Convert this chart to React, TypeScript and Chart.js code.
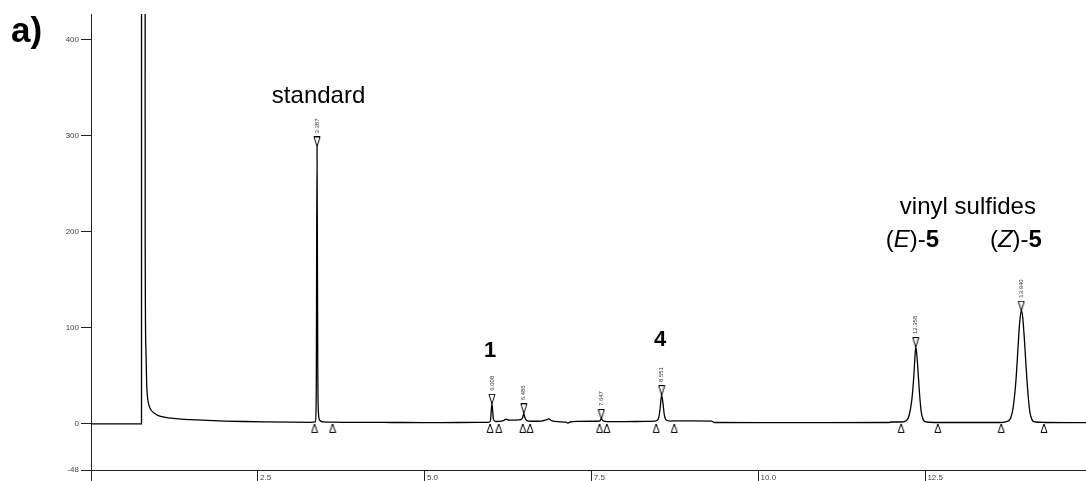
import { useEffect, useRef } from "react";
import { Chart, registerables } from "chart.js";

Chart.register(...registerables);

// Detector trace: retention time (min) and signal
const traceTime = [
  0, 0.757, 0.758, 0.806, 0.812, 0.822, 0.835, 0.85, 0.87, 0.9, 0.95, 1.0, 1.1, 1.2, 1.35, 1.5, 1.75, 2.0,
  2.3, 2.6, 3.0, 3.3, 3.36, 3.375, 3.387, 3.398, 3.41, 3.43, 3.48, 3.6, 4.0, 4.5, 5.0, 5.5, 5.95,
  5.985, 5.998, 6.008, 6.018, 6.03, 6.06, 6.12, 6.18, 6.22, 6.26, 6.35, 6.44, 6.47, 6.486, 6.5, 6.53,
  6.6, 6.75, 6.82, 6.86, 6.9, 7.0, 7.12, 7.15, 7.18, 7.3, 7.5, 7.62, 7.647, 7.68, 7.8, 8.0, 8.3, 8.45,
  8.5, 8.525, 8.551, 8.57, 8.59, 8.62, 8.68, 8.8, 9.0, 9.3, 9.34, 10.0, 11.0, 11.95, 12.0, 12.15, 12.22,
  12.26, 12.3, 12.33, 12.345, 12.358, 12.37, 12.39, 12.415, 12.44, 12.47, 12.52, 12.7, 13.6, 13.72,
  13.78, 13.82, 13.86, 13.89, 13.915, 13.94, 13.96, 13.985, 14.01, 14.04, 14.07, 14.1, 14.15, 14.3, 14.91,
];
const traceSignal = [
  0, 0, 2000, 2000, 200, 80, 40, 26, 19, 14.5, 11, 9, 7, 6, 5, 4.4, 3.6, 3,
  2.5, 2.1, 1.8, 1.7, 2.2, 30, 289, 60, 10, 3.5, 2.2, 1.8, 1.6, 1.5, 1.4, 1.5, 1.6,
  3, 14, 21, 14, 5, 2.5, 2.6, 3.5, 5, 4, 4, 4.5, 7, 11, 7, 3.5,
  2.8, 3, 4.2, 5.2, 3.5, 2.3, 1.8, 0.8, 2, 2.6, 2.8, 3, 5, 3, 2.3, 2.4, 2.6, 3,
  5, 14, 30, 22, 10, 4, 3, 3.2, 3.2, 3, 1.5, 1.4, 1.4, 1.5, 2, 2, 3.5,
  9, 25, 50, 68, 80, 76, 58, 32, 13, 4.5, 2, 1.5, 1.5, 2.5,
  6, 18, 45, 78, 105, 118, 112, 90, 62, 32, 12, 4.5, 2, 1.5, 1.3,
];

// Integrated peaks
const peakTimes = [3.387, 6.008, 6.486, 7.647, 8.551, 12.358, 13.94];
const peakHeights = [289, 21, 11, 5, 30, 80, 118];
const peakStarts = [3.35, 5.98, 6.47, 7.62, 8.47, 12.14, 13.64];
const peakEnds = [3.62, 6.11, 6.58, 7.73, 8.74, 12.69, 14.28];

// Axis ticks
const xTickValues = [0, 2.5, 5, 7.5, 10, 12.5];
const yTickValues = [-48, 0, 100, 200, 300, 400];

const FONT = '"Liberation Sans", Arial, Helvetica, sans-serif';

type Part = { text: string; style?: "italic" | "bold" };
type Note = { parts: Part[]; time: number; value: number; size: number };

const notes: Note[] = [
  { parts: [{ text: "standard" }], time: 3.41, value: 334, size: 24 },
  { parts: [{ text: "1", style: "bold" }], time: 5.98, value: 70, size: 22 },
  { parts: [{ text: "4", style: "bold" }], time: 8.53, value: 81, size: 22 },
  { parts: [{ text: "vinyl sulfides" }], time: 13.14, value: 218.5, size: 24 },
  {
    parts: [{ text: "(" }, { text: "E", style: "italic" }, { text: ")-" }, { text: "5", style: "bold" }],
    time: 12.31, value: 184.5, size: 24,
  },
  {
    parts: [{ text: "(" }, { text: "Z", style: "italic" }, { text: ")-" }, { text: "5", style: "bold" }],
    time: 13.86, value: 184.5, size: 24,
  },
];

function partFont(p: Part, size: number) {
  const pre = p.style === "italic" ? "italic " : p.style === "bold" ? "bold " : "";
  return `${pre}${size}px ${FONT}`;
}

// Open triangles whose tip sits at the centre of the sprite
function makeTriangle(pointing: "up" | "down") {
  const c = document.createElement("canvas");
  c.width = 8;
  c.height = 20;
  const g = c.getContext("2d")!;
  g.strokeStyle = "#000";
  g.fillStyle = "#fff";
  g.lineWidth = 1;
  g.beginPath();
  if (pointing === "down") {
    g.moveTo(1, 0.5);
    g.lineTo(7, 0.5);
    g.lineTo(4, 10);
  } else {
    g.moveTo(4, 10);
    g.lineTo(7, 18.5);
    g.lineTo(1, 18.5);
  }
  g.closePath();
  if (pointing === "up") g.fill();
  g.stroke();
  return c;
}

const textPlugin = {
  id: "chromatogramText",
  afterDatasetsDraw(chart: any) {
    const { ctx, scales } = chart;
    const x = scales.x;
    const y = scales.y;
    ctx.save();

    // retention times above each apex marker
    ctx.font = `6px ${FONT}`;
    ctx.fillStyle = "#333";
    ctx.textAlign = "left";
    ctx.textBaseline = "middle";
    peakTimes.forEach((t, i) => {
      const px = x.getPixelForValue(t);
      const py = y.getPixelForValue(peakHeights[i]) - 13;
      ctx.save();
      ctx.translate(px, py);
      ctx.rotate(-Math.PI / 2);
      ctx.fillText(t.toFixed(3), 0, 0);
      ctx.restore();
    });

    // compound labels
    ctx.fillStyle = "#000";
    ctx.textBaseline = "alphabetic";
    notes.forEach((n) => {
      let total = 0;
      const widths = n.parts.map((p) => {
        ctx.font = partFont(p, n.size);
        const w = ctx.measureText(p.text).width;
        total += w;
        return w;
      });
      let cx = x.getPixelForValue(n.time) - total / 2;
      const cy = y.getPixelForValue(n.value);
      n.parts.forEach((p, i) => {
        ctx.font = partFont(p, n.size);
        ctx.fillText(p.text, cx, cy);
        cx += widths[i];
      });
    });

    // panel letter
    ctx.font = `bold 35px ${FONT}`;
    ctx.fillText("a)", 11, 42);
    ctx.restore();
  },
};

export default function App() {
  const canvasRef = useRef<HTMLCanvasElement | null>(null);

  useEffect(() => {
    const canvas = canvasRef.current;
    if (!canvas) return;
    const down = makeTriangle("down");
    const up = makeTriangle("up");

    const chart = new Chart(canvas, {
      type: "line",
      data: {
        datasets: [
          {
            data: traceTime.map((t, i) => ({ x: t, y: traceSignal[i] })),
            borderColor: "#000",
            borderWidth: 1.3,
            pointRadius: 0,
            cubicInterpolationMode: "monotone",
            fill: false,
          },
          {
            type: "scatter",
            data: peakTimes.map((t, i) => ({ x: t, y: peakHeights[i] })),
            pointStyle: down,
            pointRadius: 4,
            showLine: false,
          },
          {
            type: "scatter",
            data: [...peakStarts, ...peakEnds].map((t) => ({ x: t, y: 0 })),
            pointStyle: up,
            pointRadius: 4,
            showLine: false,
          },
        ] as any,
      },
      options: {
        animation: false,
        responsive: false,
        events: [],
        layout: { autoPadding: false, padding: { top: 14, left: 0, right: 0, bottom: 0 } },
        plugins: { legend: { display: false }, tooltip: { enabled: false } },
        scales: {
          x: {
            type: "linear",
            min: 0,
            max: 14.91,
            afterBuildTicks: (s: any) => {
              s.ticks = xTickValues.map((v) => ({ value: v }));
            },
            afterFit: (s: any) => {
              s.height = 11;
              s.paddingRight = 0;
              s.paddingLeft = 0;
            },
            grid: { drawOnChartArea: false, drawTicks: true, tickLength: 11, color: "#222", lineWidth: 1 },
            border: { display: true, color: "#222", width: 1 },
            ticks: {
              align: "start",
              padding: -8,
              autoSkip: false,
              maxRotation: 0,
              color: "#444",
              font: { family: FONT, size: 8 },
              callback: (v: any) => (Number(v) === 0 ? "" : " " + Number(v).toFixed(1)),
            },
          },
          y: {
            type: "linear",
            min: -48,
            max: 427,
            afterBuildTicks: (s: any) => {
              s.ticks = yTickValues.map((v) => ({ value: v }));
            },
            afterFit: (s: any) => {
              s.width = 91;
            },
            grid: { drawOnChartArea: false, drawTicks: true, tickLength: 10, color: "#222", lineWidth: 1 },
            border: { display: true, color: "#222", width: 1 },
            ticks: {
              padding: 2,
              autoSkip: false,
              color: "#444",
              font: { family: FONT, size: 8 },
              callback: (v: any) => String(v),
            },
          },
        },
      } as any,
      plugins: [textPlugin],
    });
    return () => chart.destroy();
  }, []);

  return (
    <div style={{ position: "absolute", left: 0, top: 0, width: 1086, height: 481, background: "#fff" }}>
      <canvas ref={canvasRef} width={1086} height={481} style={{ display: "block" }} />
    </div>
  );
}
